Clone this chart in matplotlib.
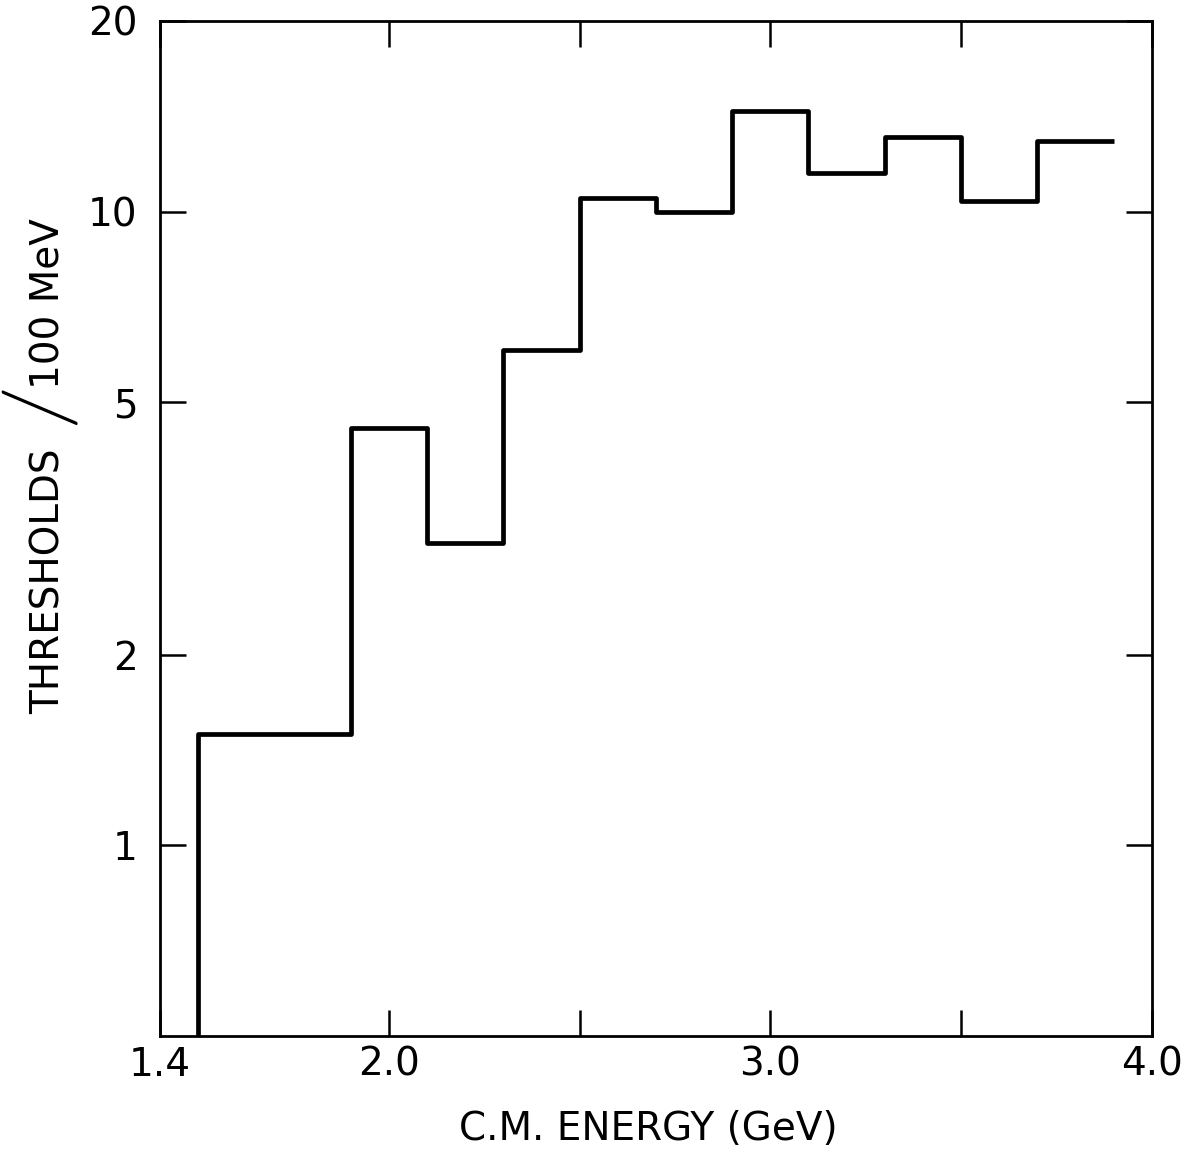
import numpy as np
import matplotlib
matplotlib.use("Agg")
import matplotlib.pyplot as plt
import matplotlib.patheffects as pe

# bin edges (GeV) and thresholds per 100 MeV
edges = [1.5, 1.9, 2.1, 2.3, 2.5, 2.7, 2.9, 3.1, 3.3, 3.5, 3.7, 3.9]
counts = [1.5, 4.55, 3.0, 6.05, 10.5, 10.0, 14.4, 11.5, 13.1, 10.4, 12.9]

xticks_major = [1.4, 2.0, 3.0, 4.0]
xtick_labels = ["1.4", "2.0", "3.0", "4.0"]
xticks_minor = [2.5, 3.5]
yticks = [1, 2, 5, 10, 20]
ytick_labels = ["1", "2", "5", "10", "20"]

plt.rcParams['font.family'] = ['DejaVu Sans']

fig = plt.figure(figsize=(11.91, 11.55), dpi=100)
ax = fig.add_axes([0.1343, 0.1030, 0.8327, 0.8790])

# step outline: starts from below the axis at the first edge, open at the right end
ylow = 0.3
xs = np.repeat(edges, 2)[:-1]
ys = np.concatenate([[ylow], np.repeat(counts, 2)])
ax.plot(xs, ys, color="black", lw=3.4, solid_joinstyle="round", solid_capstyle="butt")

ax.set_yscale("log")
ax.set_xlim(1.4, 4.0)
ax.set_ylim(0.5, 20)

ax.set_xticks(xticks_major)
ax.set_xticklabels(xtick_labels)
ax.set_xticks(xticks_minor, minor=True)
ax.set_yticks(yticks)
ax.set_yticklabels(ytick_labels)
ax.yaxis.set_minor_locator(matplotlib.ticker.NullLocator())

for s in ax.spines.values():
    s.set_linewidth(2.0)

ax.tick_params(which="both", direction="in", length=19, width=1.8,
               top=True, right=True, labelsize=28)
ax.tick_params(axis="x", which="major", pad=7)
ax.tick_params(axis="y", which="major", pad=16)

fig.text(0.544, 0.013, "C.M. ENERGY (GeV)", fontsize=28, ha="center", va="baseline")

fig.text(0.041, 0.497, "THRESHOLDS", fontsize=28, rotation=90, ha="center", va="center")
fig.text(0.039, 0.647, "/", fontsize=70, rotation=90, ha="center", va="center",
         family=["Lato", "DejaVu Sans"], fontweight="light",
         path_effects=[pe.withStroke(linewidth=1.5, foreground="black")])
fig.text(0.041, 0.737, "100 MeV", fontsize=28, rotation=90, ha="center", va="center")

fig.savefig("out.png", dpi=100)
